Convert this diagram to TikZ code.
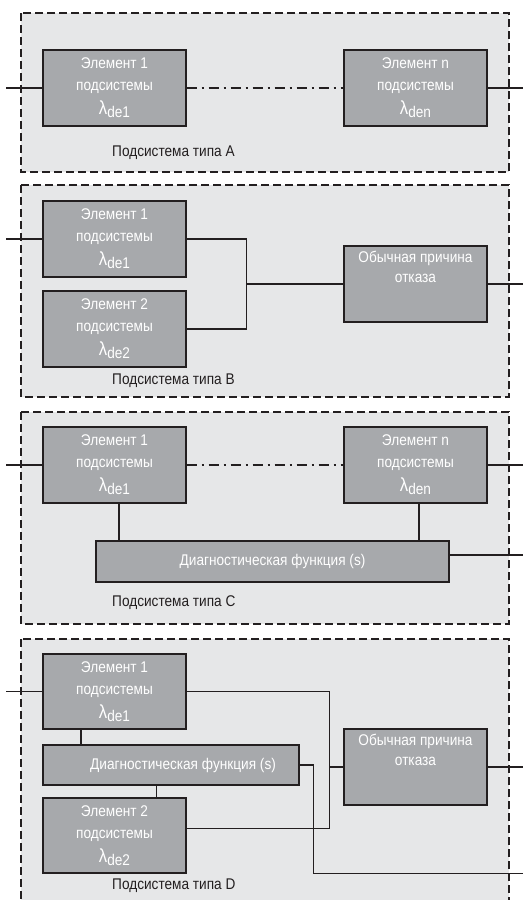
\documentclass[tikz,border=0pt]{standalone}
\usepackage{fontspec}
\setmainfont{Liberation Sans}[FakeStretch=0.88]
\usetikzlibrary{calc}
\definecolor{panelbg}{HTML}{E6E7E8}
\definecolor{boxfill}{HTML}{A7A9AC}
\definecolor{inkline}{HTML}{231F20}
\newcommand\lamsym[1]{{\fontsize{19}{19}\selectfont λ}\raisebox{-0.4ex}{#1}}
\begin{document}
\begin{tikzpicture}[x=1pt,y=-1pt,
  panel/.style={draw=inkline, line width=1.2pt, dash pattern=on 8pt off 4pt, fill=panelbg},
  elem/.style={draw=inkline, line width=1.4pt, fill=boxfill, text=white, align=center,
    inner sep=0pt, font=\fontsize{15.5}{22}\selectfont},
  etext/.style={text=white, align=center, inner sep=0pt, font=\fontsize{15.5}{20}\selectfont},
  plabel/.style={text=inkline, anchor=west, inner sep=0pt, font=\fontsize{15.5}{17}\selectfont},
  wire/.style={draw=inkline, line width=1.2pt},
  dashdot/.style={wire, dash pattern=on 10pt off 5pt on 2pt off 5pt}]
\useasboundingbox (0,0) rectangle (526,900);
\clip (0,0) rectangle (526,900);
% panels
\draw[panel] (21,13) rectangle (509,172);
\draw[panel] (21,185) rectangle (509,397);
\draw[panel] (21,412) rectangle (509,624);
\draw[panel] (21,639) rectangle (509,912);
% ---------- A
\node[elem, minimum width=143pt, minimum height=76pt] (e1A) at (114.5,88) {Элемент 1\\подсистемы\\[2pt]\lamsym{de1}};
\node[elem, minimum width=143pt, minimum height=76pt] (enA) at (415.5,88) {Элемент n\\подсистемы\\[2pt]\lamsym{den}};
\node[plabel] (lA) at (112,153) {Подсистема типа A};
\coordinate (inA) at (6,88);
\coordinate (outA) at (523,88);
\draw[wire] (inA) -- (e1A.west);
\draw[dashdot] (e1A.east) -- (enA.west);
\draw[wire] (enA.east) -- (outA);
% ---------- B
\node[elem, minimum width=143pt, minimum height=76pt] (e1B) at (114.5,239) {Элемент 1\\подсистемы\\[2pt]\lamsym{de1}};
\node[elem, minimum width=143pt, minimum height=76pt] (e2B) at (114.5,329) {Элемент 2\\подсистемы\\[2pt]\lamsym{de2}};
\node[elem, minimum width=143pt, minimum height=76pt] (ccB) at (415.5,284) {};
\node[etext, anchor=north] (ccBt) at ($(ccB.north)+(0,6)$) {Обычная причина\\отказа};
\node[plabel] (lB) at (112,381) {Подсистема типа B};
\coordinate (inB) at (6,239);
\coordinate (outB) at (523,284);
\coordinate (jB) at (246.7,284);
\draw[wire] (inB) -- (e1B.west);
\draw[wire] (e1B.east) -| (jB) |- (e2B.east);
\draw[wire] (jB) -- (ccB.west);
\draw[wire] (ccB.east) -- (outB);
% ---------- C
\node[elem, minimum width=143pt, minimum height=76pt] (e1C) at (114.5,465) {Элемент 1\\подсистемы\\[2pt]\lamsym{de1}};
\node[elem, minimum width=143pt, minimum height=76pt] (enC) at (415.5,465) {Элемент n\\подсистемы\\[2pt]\lamsym{den}};
\node[elem, minimum width=353pt, minimum height=41pt] (dgC) at (272.5,561.5) {Диагностическая функция (s)};
\node[plabel] (lC) at (112,603) {Подсистема типа C};
\coordinate (inC) at (6,465);
\coordinate (outC) at (523,555);
\draw[wire] (inC) -- (e1C.west);
\draw[dashdot] (e1C.east) -- (enC.west);
\draw[wire] (enC.east) -- (523,465);
\draw[wire] ([xshift=4.5pt]e1C.south) -- ([xshift=4.5pt]e1C.south |- dgC.north);
\draw[wire] ([xshift=3.5pt]enC.south) -- ([xshift=3.5pt]enC.south |- dgC.north);
\draw[wire] (dgC.east |- outC) -- (outC);
% ---------- D
\node[elem, minimum width=143pt, minimum height=75pt] (e1D) at (114.5,691.5) {Элемент 1\\подсистемы\\[2pt]\lamsym{de1}};
\node[elem, minimum width=256pt, minimum height=40pt] (dgD) at (171,765) {\hspace*{24pt}Диагностическая функция (s)};
\node[elem, minimum width=143pt, minimum height=75pt] (e2D) at (114.5,835.5) {Элемент 2\\подсистемы\\[2pt]\lamsym{de2}};
\node[elem, minimum width=143pt, minimum height=76pt] (ccD) at (415.5,767) {};
\node[etext, anchor=north] (ccDt) at ($(ccD.north)+(0,6)$) {Обычная причина\\отказа};
\node[plabel] (lD) at (112,886) {Подсистема типа D};
\coordinate (inD) at (6,691.5);
\coordinate (outD) at (523,767);
\coordinate (jD) at (329.3,767);
\coordinate (dgout) at (523,873.3);
\draw[wire] (inD) -- (e1D.west);
\draw[wire] (e1D.east) -| (jD) |- ([yshift=7pt]e2D.east);
\draw[wire] (jD) -- (ccD.west);
\draw[wire] (ccD.east) -- (outD);
\draw[wire] (dgD.east) -- (313.3,765) |- (dgout);
\draw[wire] ([xshift=-33.5pt]e1D.south) -- ([xshift=-33.5pt]e1D.south |- dgD.north);
\draw[wire] ([xshift=42pt]e2D.north) -- ([xshift=42pt]e2D.north |- dgD.south);
\end{tikzpicture}
\end{document}
